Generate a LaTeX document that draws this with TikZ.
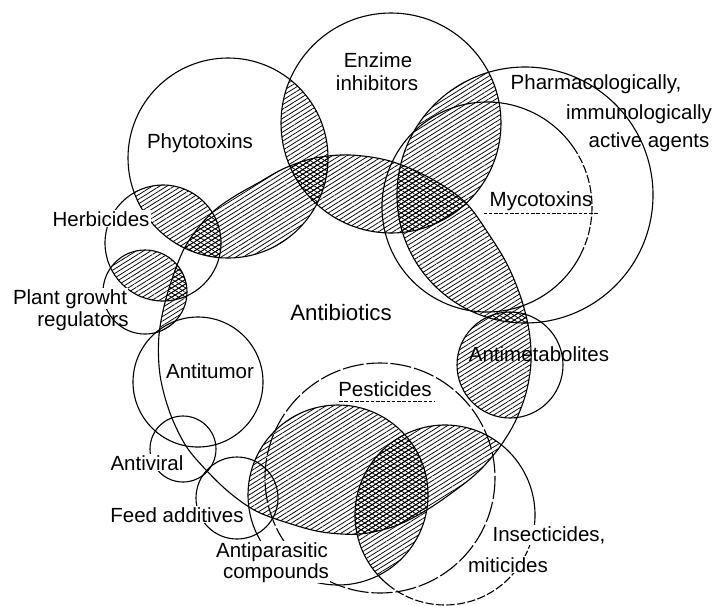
\documentclass[tikz,border=0pt]{standalone}
\usepackage{fontspec}
\setmainfont{Liberation Sans}
\usetikzlibrary{patterns.meta}
\begin{document}
\newcommand\cEnz{(391,123) circle[radius=110]}
\newcommand\cPhy{(228,158) circle[radius=100]}
\newcommand\cHerb{(163,243) circle[radius=58]}
\newcommand\cPlant{(145,292) circle[radius=42]}
\newcommand\cPharma{(525,195) circle[radius=128]}
\newcommand\cAntimet{(510,365) circle[radius=53]}
\newcommand\cAntipar{(338,495) circle[radius=90]}
\newcommand\cInsect{(445,515) circle[radius=90]}
\newcommand\pathA{plot[smooth cycle, tension=0.55] coordinates {
 (182,253) (198,228) (215,210) (235,196) (258,183) (285,168) (315,158) (350,155)
 (390,161) (430,178) (465,202) (490,236) (508,266) (521,298) (529,330) (531,362)
 (526,393) (515,422) (499,448) (478,472) (453,492) (425,511) (395,526) (360,534)
 (322,532) (288,523) (256,511) (230,493) (207,471) (186,446) (170,413) (160,375)
 (159,335) (167,295)}}
\begin{tikzpicture}[x=0.03cm,y=-0.03cm,
  outline/.style={line width=0.95pt},
  hatchfill/.style={pattern={Lines[angle=32,distance=3.3pt,line width=0.65pt]}},
  crossfill/.style={pattern={Lines[angle=148,distance=3.3pt,line width=0.65pt]}},
  lbl/.style={font=\fontsize{17.5}{20}\selectfont, inner sep=1pt, anchor=base},
  lblw/.style={lbl, fill=white},
  bigl/.style={lbl, font=\fontsize{19}{22}\selectfont},
  longdash/.style={outline, dash pattern=on 18pt off 2.5pt},
  meddash/.style={outline, dash pattern=on 7pt off 2pt},
  udash/.style={line width=0.7pt, dash pattern=on 3pt off 1.5pt}]
\fill[white, use as bounding box] (0,0) rectangle (713,605);

% ---- hatched: pairs outside antibiotics
\begin{scope}\clip \cEnz; \fill[hatchfill] \cPhy; \end{scope}
\begin{scope}\clip \cHerb; \fill[hatchfill] \cPhy; \end{scope}
\begin{scope}\clip \cPlant; \fill[hatchfill] \cHerb; \end{scope}
\begin{scope}\clip \cEnz; \fill[hatchfill] \cPharma; \end{scope}
\begin{scope}\clip \cInsect; \fill[hatchfill] \cAntipar; \end{scope}
% ---- hatched: antibiotics with others
\begin{scope}\clip \pathA;
  \fill[hatchfill] \cPlant;
  \fill[hatchfill] \cPhy;
  \fill[hatchfill] \cEnz;
  \fill[hatchfill] \cPharma;
  \fill[hatchfill] \cAntimet;
  \fill[hatchfill] \cAntipar;
  \fill[hatchfill] \cInsect;
\end{scope}
% ---- cross-hatched: triples
\begin{scope}\clip \pathA; \clip \cEnz; \fill[crossfill] \cPhy; \end{scope}
\begin{scope}\clip \pathA; \clip \cHerb; \fill[crossfill] \cPhy; \end{scope}
\begin{scope}\clip \pathA; \clip \cPlant; \fill[crossfill] \cHerb; \end{scope}
\begin{scope}\clip \pathA; \clip \cEnz; \fill[crossfill] \cPharma; \end{scope}
\begin{scope}\clip \pathA; \clip \cPharma; \fill[crossfill] \cAntimet; \end{scope}
\begin{scope}\clip \pathA; \clip \cAntipar; \fill[crossfill] \cInsect; \end{scope}

% ---- outlines
\draw[outline] \cEnz;
\draw[outline] \cPhy;
\draw[outline] \cHerb;
\draw[outline] \cPlant;
\draw[outline] \cPharma;
\draw[outline] \cAntimet;
\draw[outline] \cAntipar;
\draw[outline] (198,382) circle[radius=65];
\draw[outline] (183,449) circle[radius=33];
\draw[outline] (237,498) circle[radius=41];
\draw[outline] (487,207) ++(25:105) arc[start angle=25, end angle=325, radius=105];
\draw[meddash] (487,207) ++(-35:105) arc[start angle=-35, end angle=25, radius=105];
\draw[outline] (445,515) ++(125:90) arc[start angle=125, end angle=370, radius=90];
\draw[meddash] (445,515) ++(10:90) arc[start angle=10, end angle=125, radius=90];
\draw[longdash] (380,478) circle[radius=115];
\draw[outline] \pathA;

% ---- labels
\node[lbl] (enz1) at (378,67) {Enzime};
\node[lbl] (enz2) at (377,90) {inhibitors};
\node[lbl] (phy) at (200,148) {Phytotoxins};
\node[lblw] (herb) at (101,226) {Herbicides};
\node[lblw] (plant1) at (70,304) {Plant growht};
\node[lbl] (plant2) at (83,326) {regulators};
\node[bigl] (anti) at (341,320) {Antibiotics};
\node[lbl] (ph1) at (596,89) {Pharmacologically,};
\node[lbl] (ph2) at (639,119) {immunologically};
\node[lbl] (ph3) at (649,147) {active agents};
\node[lbl] (myco) at (541,206) {Mycotoxins};
\node[lbl] (antimet) at (539,361) {Antimetabolites};
\node[lbl] (antitumor) at (210,378) {Antitumor};
\node[lblw] (antiviral) at (147,470) {Antiviral};
\node[lblw] (feed) at (177,522) {Feed additives};
\node[lblw] (ap1) at (272,557) {Antiparasitic};
\node[lblw] (ap2) at (276,578) {compounds};
\node[lbl] (pest) at (385,396) {Pesticides};
\node[lblw] (ins1) at (549,541) {Insecticides,};
\node[lblw] (ins2) at (508,572) {miticides};
\draw[udash] ([shift={(-4pt,-6pt)}]myco.base west) -- ([shift={(4pt,-6pt)}]myco.base east);
\draw[udash] ([shift={(2pt,-5pt)}]pest.base west) -- ([shift={(2pt,-5pt)}]pest.base east);
\end{tikzpicture}
\end{document}
